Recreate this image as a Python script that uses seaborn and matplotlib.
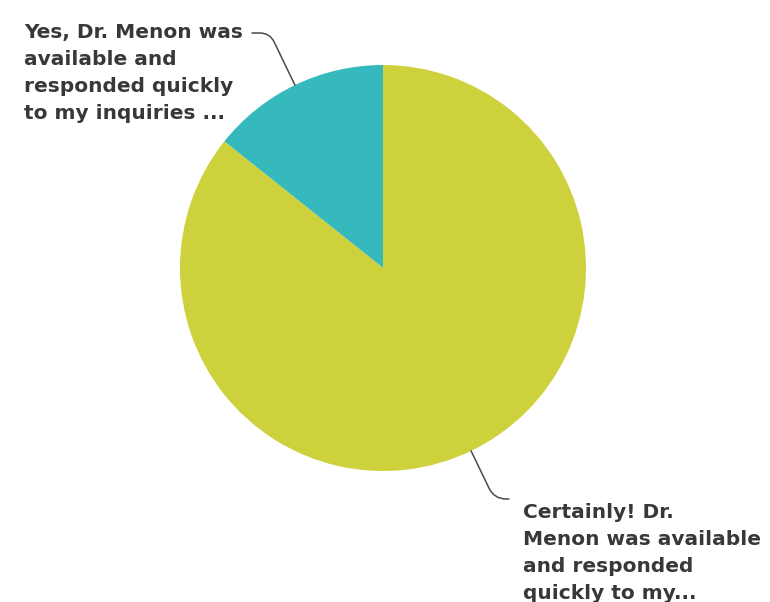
import numpy as np
import matplotlib
matplotlib.use("Agg")
import matplotlib.pyplot as plt
import seaborn as sns

sns.set_theme(style="white")
plt.rcParams['font.family'] = ['DejaVu Sans']

labels = ["Yes, Dr. Menon was\navailable and\nresponded quickly\nto my inquiries ...",
          "Certainly! Dr.\nMenon was available\nand responded\nquickly to my..."]
values = [1, 6]
colors = ["#35B9BD", "#CDD13B"]

W, H = 770, 602
cx, cy, R = 383, 268, 203
fig = plt.figure(figsize=(W / 100, H / 100), dpi=100)
ax = fig.add_axes([0, 0, 1, 1])
ax.pie(values, colors=colors, startangle=90, counterclock=True, radius=1,
       wedgeprops=dict(linewidth=0))
ax.set_xlim(-cx / R, (W - cx) / R)
ax.set_ylim(-(H - cy) / R, cy / R)
ax.set_aspect('equal')
ax.axis('off')

def px(x, y):
    return ((x - cx) / R, (cy - y) / R)

total = sum(values)
angles = []
start = 90
for v in values:
    span = 360 * v / total
    angles.append(start + span / 2)
    start += span

txt_kw = dict(fontsize=14.5, fontweight='bold', color='#383838', linespacing=1.53)
line_kw = dict(arrowstyle='-', color='#4a4a4a', lw=1.1, shrinkA=0, shrinkB=0)

# label 1
a = angles[0]
edge = (np.cos(np.deg2rad(a)), np.sin(np.deg2rad(a)))
ax.text(*px(24, 23), labels[0], ha='left', va='top', **txt_kw)
ax.annotate("", xy=edge, xytext=px(252, 33),
            arrowprops=dict(connectionstyle=f"angle,angleA=0,angleB={a},rad=10", **line_kw))
# label 2
a = angles[1]
edge = (np.cos(np.deg2rad(a)), np.sin(np.deg2rad(a)))
ax.text(*px(523, 503), labels[1], ha='left', va='top', **txt_kw)
ax.annotate("", xy=edge, xytext=px(509, 499),
            arrowprops=dict(connectionstyle=f"angle,angleA=0,angleB={a},rad=12", **line_kw))

fig.savefig("out.png", dpi=100)
